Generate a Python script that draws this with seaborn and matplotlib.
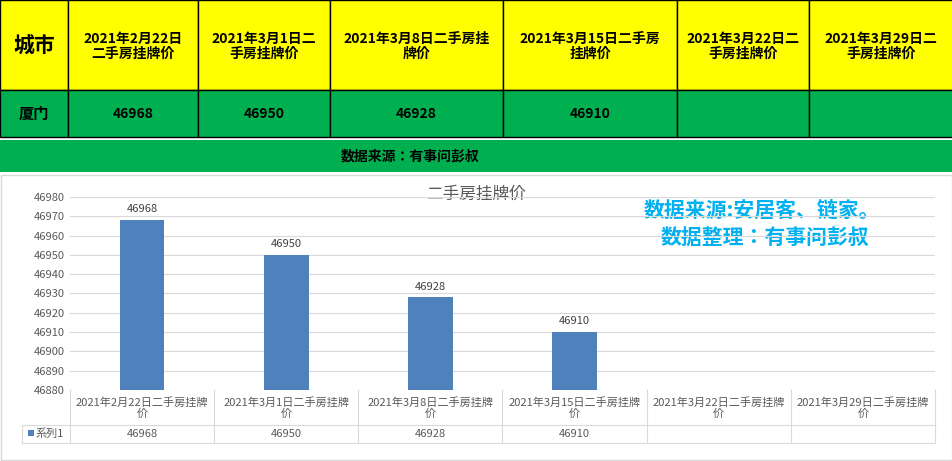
import matplotlib.pyplot as plt
import matplotlib.patches as mpatches
import seaborn as sns
import pandas as pd

plt.rcParams["font.family"] = ["Noto Sans CJK JP", "Noto Sans CJK SC", "DejaVu Sans"]

city = "厦门"
dates = ["2021年2月22日", "2021年3月1日", "2021年3月8日", "2021年3月15日", "2021年3月22日", "2021年3月29日"]
prices = [46968, 46950, 46928, 46910, None, None]
header_labels = ["2021年2月22日\n二手房挂牌价", "2021年3月1日二\n手房挂牌价", "2021年3月8日二手房挂\n牌价",
                 "2021年3月15日二手房\n挂牌价", "2021年3月22日二\n手房挂牌价", "2021年3月29日二\n手房挂牌价"]
cat_labels = [d + "二手房挂牌\n价" for d in dates]
yticks = list(range(46880, 46981, 10))

W, H = 953, 461
fig = plt.figure(figsize=(W / 100, H / 100), dpi=100)
bg = fig.add_axes([0, 0, 1, 1])
bg.set_xlim(0, W)
bg.set_ylim(H, 0)
bg.axis("off")

cols = [0, 68, 198, 330, 503, 677, 809, 953]
yellow, green = "#FFFF00", "#00B050"
# header row
for i in range(7):
    bg.add_patch(mpatches.Rectangle((cols[i], 0), cols[i + 1] - cols[i], 90, fc=yellow, ec="black", lw=1))
    bg.add_patch(mpatches.Rectangle((cols[i], 90), cols[i + 1] - cols[i], 47, fc=green, ec="black", lw=1))
bg.text(34, 46, "城市", ha="center", va="center", fontsize=15, fontweight="bold")
bg.text(34, 114, city, ha="center", va="center", fontsize=11, fontweight="bold")
for i, lab in enumerate(header_labels):
    cx = (cols[i + 1] + cols[i + 2]) / 2
    bg.text(cx, 46, lab, ha="center", va="center", fontsize=10, fontweight="bold", linespacing=1.1)
    if prices[i] is not None:
        bg.text(cx, 114, str(prices[i]), ha="center", va="center", fontsize=10, fontweight="bold")
bg.add_patch(mpatches.Rectangle((0, 140), W, 32, fc=green, ec="none"))
bg.text(410, 156, "数据来源：有事问彭叔", ha="center", va="center", fontsize=10, fontweight="bold")
bg.add_patch(mpatches.Rectangle((1, 175), W - 2, H - 176, fc="white", ec="#D9D9D9", lw=1))
bg.text(476, 194, "二手房挂牌价", ha="center", va="center", fontsize=12, color="#595959")
bg.text(762, 210, "数据来源:安居客、链家。", ha="center", va="center", fontsize=15, fontweight="bold", color="#00B0F0")
bg.text(765, 238, "数据整理：有事问彭叔", ha="center", va="center", fontsize=15, fontweight="bold", color="#00B0F0")

# data table below chart
x0, x1 = 70, 935
cw = (x1 - x0) / 6
for i in range(7):
    x = x0 + i * cw
    bg.plot([x, x], [390, 443], color="#D9D9D9", lw=0.8)
bg.plot([22, x1], [425, 425], color="#D9D9D9", lw=0.8)
bg.plot([22, x1], [443, 443], color="#D9D9D9", lw=0.8)
bg.plot([22, 22], [425, 443], color="#D9D9D9", lw=0.8)
bg.add_patch(mpatches.Rectangle((28, 430), 6, 6, fc="#4F81BD"))
bg.text(36, 434, "系列1", ha="left", va="center", fontsize=8, color="#595959")
for i in range(6):
    cx = x0 + (i + 0.5) * cw
    bg.text(cx, 408, cat_labels[i], ha="center", va="center", fontsize=8, color="#595959", linespacing=1.0)
    if prices[i] is not None:
        bg.text(cx, 434, str(prices[i]), ha="center", va="center", fontsize=8, color="#595959")

# bar chart
ax = fig.add_axes([x0 / W, 1 - 390 / H, (x1 - x0) / W, (390 - 197) / H])
df = pd.DataFrame({"date": dates, "price": [p if p is not None else 0 for p in prices]})
sns.barplot(data=df, x="date", y="price", color="#4F81BD", saturation=1, width=0.31, ax=ax, zorder=3)
ax.set_ylim(46880, 46980)
ax.set_yticks(yticks)
ax.tick_params(axis="y", labelsize=8, labelcolor="#595959", length=0)
ax.set_xticks([])
ax.set_xlabel("")
ax.set_ylabel("")
ax.grid(axis="y", color="#D9D9D9", lw=0.8, zorder=0)
for s in ax.spines.values():
    s.set_visible(False)
ax.patch.set_alpha(0)
for i, p in enumerate(prices):
    if p is not None:
        ax.text(i, p + 3, str(p), ha="center", va="bottom", fontsize=8, color="#404040")

fig.savefig("out.png", dpi=100)
